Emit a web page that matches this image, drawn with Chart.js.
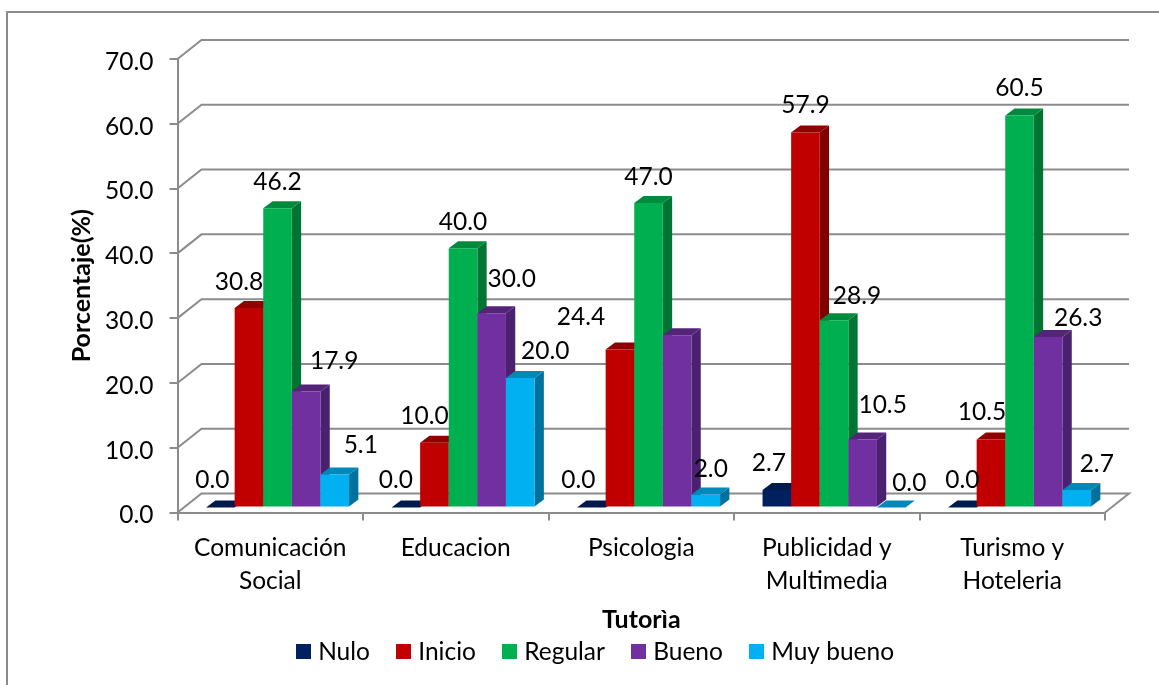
<!DOCTYPE html>
<html>
<head>
<meta charset="utf-8">
<title>Tutoria</title>
<script src="https://cdn.jsdelivr.net/npm/chart.js@4"></script>
<style>
  html, body { margin: 0; padding: 0; background: #fff; }
  #wrap { position: relative; width: 1159px; height: 685px; overflow: hidden; }
</style>
</head>
<body>
<div id="wrap"><canvas id="chart"></canvas></div>
<script>
const categories = [['Comunicación', 'Social'], 'Educacion', 'Psicologia', ['Publicidad y', 'Multimedia'], ['Turismo y', 'Hoteleria']];
const seriesNames = ['Nulo', 'Inicio', 'Regular', 'Bueno', 'Muy bueno'];

const nulo = [0, 0, 0, 2.7, 0];
const inicio = [30.8, 10, 24.4, 57.9, 10.5];
const regular = [46.2, 40, 47, 28.9, 60.5];
const bueno = [17.9, 30, 26.6, 10.5, 26.3];
const muyBueno = [5.1, 20, 2, 0, 2.7];
const seriesValues = [nulo, inicio, regular, bueno, muyBueno];

const frontColors = ['#002060', '#C00000', '#00B050', '#7030A0', '#00B0F0'];
const topColors = ['#001a4d', '#900000', '#008a3e', '#54247a', '#0088ba'];
const sideColors = ['#00133a', '#800000', '#007533', '#4a2070', '#00709c'];

// where each value label was dragged to in the original, relative to its bar [dx, dy above top]
// null = the original shows no label for that bar
const labelShifts = [
  [[-8, 27], [-10, 27], [-13, 27], [-8, 27], [0, 27]],
  [[-10, 26], [-10, 27], [-39, 32], [0, 27], [-9, 27]],
  [[0, 26], [0, 26], [0, 26], [23, 24], [0, 27]],
  [[28, 30], [20, 34], null, [20, 34], [30, 19]],
  [[26, 29], [25, 27], [5, 25], [18, 24], [20, 26]]
];

const FONT = 'Lato, Carlito, sans-serif';
const LINE = '#8c8c8c';
const wallX = 24, wallY = 19;       // depth of the back wall
const barShiftX = 7.3, barShiftY = -5;
const barDepthX = 9.3, barDepthY = 7;

function legendSwatch(color) {
  const c = document.createElement('canvas');
  c.width = 15;
  c.height = 15;
  const g = c.getContext('2d');
  g.fillStyle = color;
  g.fillRect(0, 0, 15, 15);
  return c;
}
const swatches = frontColors.map(legendSwatch);

const frame3d = {
  id: 'frame3d',
  afterLayout(chart) {
    chart.legend.left += 45.5;
    chart.legend.right += 45.5;
    chart.legend.top -= 11;
    chart.legend.bottom -= 11;
  },
  beforeDraw(chart) {
    const ctx = chart.ctx;
    ctx.save();
    ctx.strokeStyle = LINE;
    ctx.lineWidth = 2;
    ctx.beginPath();
    ctx.moveTo(7, chart.height);
    ctx.lineTo(7, 12);
    ctx.lineTo(chart.width, 12);
    ctx.stroke();
    ctx.restore();
  },
  beforeDatasetsDraw(chart) {
    const ctx = chart.ctx;
    const x = chart.scales.x, y = chart.scales.y;

    // back wall and floor
    ctx.save();
    ctx.strokeStyle = LINE;
    ctx.lineWidth = 2;
    y.ticks.forEach(t => {
      const py = y.getPixelForValue(t.value);
      ctx.beginPath();
      ctx.moveTo(x.left, py);
      ctx.lineTo(x.left + wallX, py - wallY);
      ctx.lineTo(x.right + wallX, py - wallY);
      if (t.value === 0) ctx.lineTo(x.right, py);
      ctx.stroke();
    });
    ctx.restore();

    // left to right so every bar covers the side of the one before it
    seriesValues.forEach((vals, s) => {
      const meta = chart.getDatasetMeta(s);
      meta.data.forEach(bar => {
        const l = bar.x - bar.width / 2, r = bar.x + bar.width / 2;
        ctx.save();
        ctx.translate(barShiftX, barShiftY);
        ctx.fillStyle = sideColors[s];
        ctx.beginPath();
        ctx.moveTo(r, bar.y);
        ctx.lineTo(r + barDepthX, bar.y - barDepthY);
        ctx.lineTo(r + barDepthX, bar.base - barDepthY);
        ctx.lineTo(r, bar.base);
        ctx.closePath();
        ctx.fill();
        ctx.fillStyle = topColors[s];
        ctx.beginPath();
        ctx.moveTo(l, bar.y);
        ctx.lineTo(l + barDepthX, bar.y - barDepthY);
        ctx.lineTo(r + barDepthX, bar.y - barDepthY);
        ctx.lineTo(r, bar.y);
        ctx.closePath();
        ctx.fill();
        bar.draw(ctx);
        ctx.restore();
      });
    });

    // value labels
    ctx.save();
    ctx.font = '24.5px ' + FONT;
    ctx.fillStyle = '#000';
    ctx.textAlign = 'center';
    ctx.textBaseline = 'middle';
    seriesValues.forEach((vals, s) => {
      const meta = chart.getDatasetMeta(s);
      vals.forEach((v, i) => {
        const shift = labelShifts[s][i];
        if (!shift) return;
        const bar = meta.data[i];
        ctx.fillText(v.toFixed(1), bar.x + barShiftX + shift[0], bar.y + barShiftY - shift[1]);
      });
    });
    ctx.restore();
    return false;
  }
};

new Chart(document.getElementById('chart'), {
  type: 'bar',
  data: {
    labels: categories,
    datasets: seriesNames.map((name, s) => ({
      label: name,
      data: seriesValues[s],
      backgroundColor: frontColors[s],
      borderWidth: 0,
      categoryPercentage: 0.771,
      barPercentage: 1
    }))
  },
  options: {
    responsive: true,
    maintainAspectRatio: false,
    animation: false,
    layout: { padding: { top: 59, right: 54, left: 0, bottom: 0 } },
    plugins: {
      tooltip: { enabled: false },
      legend: {
        position: 'bottom',
        labels: {
          color: '#000',
          font: { family: FONT, size: 24.5 },
          usePointStyle: true,
          pointStyleWidth: 4,
          padding: 32,
          generateLabels(chart) {
            const items = Chart.defaults.plugins.legend.labels.generateLabels(chart);
            items.forEach((it, i) => { it.pointStyle = swatches[it.datasetIndex ?? i]; });
            return items;
          }
        }
      }
    },
    scales: {
      x: {
        afterFit(scale) { scale.height = 172.5 - scale.chart.legend.height; },
        border: { color: LINE, width: 2 },
        grid: { display: true, drawOnChartArea: false, drawTicks: true, tickLength: 8, color: LINE, lineWidth: 2 },
        ticks: {
          color: '#000',
          font: { family: FONT, size: 24.5, lineHeight: 1.31 },
          padding: 12,
          maxRotation: 0,
          autoSkip: false
        },
        title: {
          display: true,
          text: 'Tutorìa',
          color: '#000',
          font: { family: FONT, size: 25, weight: 'bold' },
          padding: { top: 0, bottom: -16 }
        }
      },
      y: {
        min: 0,
        max: 70,
        afterFit(scale) { scale.width = 177.5; },
        border: { color: LINE, width: 2 },
        grid: { display: true, drawOnChartArea: false, drawTicks: true, tickLength: 8, color: LINE, lineWidth: 2 },
        ticks: {
          stepSize: 10,
          color: '#000',
          font: { family: FONT, size: 24.5 },
          padding: 16,
          labelOffset: 3,
          callback: v => v.toFixed(1)
        },
        title: {
          display: true,
          text: 'Porcentaje(%)',
          color: '#000',
          font: { family: FONT, size: 25, weight: 'bold' },
          padding: { top: 67, bottom: 0 }
        }
      }
    }
  },
  plugins: [frame3d]
});
</script>
</body>
</html>
